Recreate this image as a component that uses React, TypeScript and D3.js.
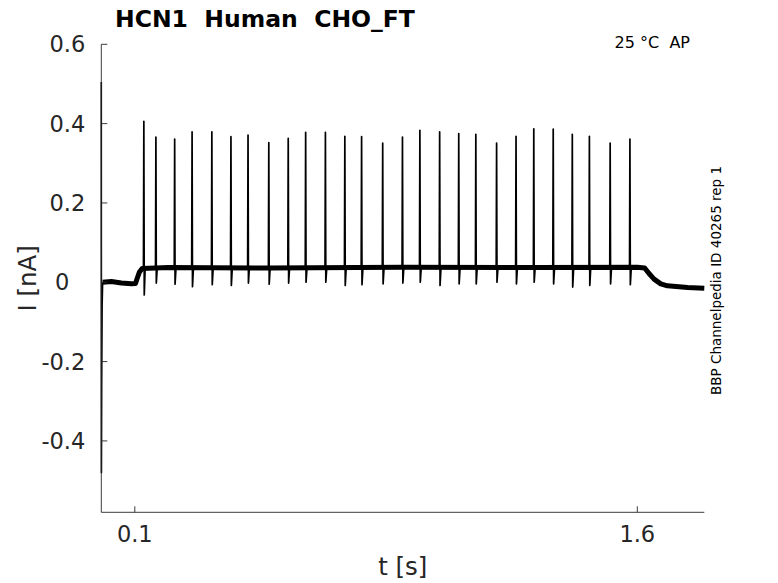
import { useEffect } from 'react';
import * as d3 from 'd3';

// spike times [s], peak current [nA] and the small undershoot after each spike
const spikeTimes = [
    0.127, 0.163, 0.219, 0.271, 0.330, 0.387, 0.438, 0.500, 0.558, 0.610,
    0.669, 0.727, 0.777, 0.840, 0.899, 0.951, 1.010, 1.067, 1.118, 1.180,
    1.238, 1.291, 1.349, 1.406, 1.457, 1.519, 1.578
];
const spikePeaks = [
    0.406, 0.366, 0.361, 0.379, 0.379, 0.367, 0.371, 0.352, 0.363, 0.378,
    0.378, 0.368, 0.367, 0.351, 0.366, 0.383, 0.379, 0.375, 0.373, 0.351,
    0.368, 0.387, 0.386, 0.373, 0.368, 0.351, 0.361
];
const spikeDips = [
    -0.032, -0.002, -0.005, -0.011, -0.006, -0.008, -0.002, -0.005, -0.002, 0.0,
    0.0, -0.008, -0.006, -0.004, -0.002, 0.0, -0.008, -0.004, -0.004, 0.0,
    -0.004, 0.0, -0.004, -0.012, -0.008, -0.004, -0.006
];

// holding current (center of the noise band)
const baselineTimes = [0.004, 0.03, 0.06, 0.09, 0.102, 0.108, 0.114, 0.122, 0.2, 0.5, 0.9, 1.3, 1.6, 1.622, 1.635, 1.65, 1.67, 1.69, 1.75, 1.8];
const baselineValues = [0.0, 0.002, -0.002, -0.004, -0.003, 0.012, 0.026, 0.035, 0.037, 0.036, 0.038, 0.037, 0.038, 0.036, 0.022, 0.008, -0.004, -0.009, -0.013, -0.015];

// capacitive transient at t = 0
const transientTimes = [0.0, 0.0004, 0.0012, 0.0025, 0.004];
const transientValues = [0.505, -0.48, -0.25, -0.06, 0.0];

const plateauLevel = 0.037;

const yTicks = [-0.4, -0.2, 0, 0.2, 0.4, 0.6];
const xTicks = [0.1, 1.6];

const W = 778;
const H = 583;
const margin = { top: 44.3, right: 73.7, bottom: 70.7, left: 101.3 };
const axisColor = '#262626';
const font = "'DejaVu Sans', sans-serif";

export default function App() {
    useEffect(() => {
        document.body.style.margin = '0';
    }, []);

    const x = d3.scaleLinear().domain([0, 1.8]).range([margin.left, W - margin.right]);
    const y = d3.scaleLinear().domain([-0.58, 0.6]).range([H - margin.bottom, margin.top]);

    const line = d3.line<[number, number]>()
        .x(d => x(d[0]))
        .y(d => y(d[1]));

    const baseline: [number, number][] = baselineTimes.map((t, i) => [t, baselineValues[i]]);
    const transient: [number, number][] = transientTimes.map((t, i) => [t, transientValues[i]]);

    const spikes = spikeTimes.map((t, i) => {
        const pts: [number, number][] = [
            [t - 0.0012, plateauLevel],
            [t, spikePeaks[i]],
            [t + 0.0012, spikeDips[i]],
            [t + 0.004, plateauLevel]
        ];
        return line(pts) || '';
    });

    const x0 = margin.left;
    const y0 = H - margin.bottom;

    return (
        <svg width={W} height={H} style={{ display: 'block', fontFamily: font }}>
            <rect width={W} height={H} fill="#fff" />

            {/* trace */}
            <g fill="none" stroke="#000" strokeLinejoin="round">
                <path d={line(baseline) || ''} strokeWidth={5} />
                <path d={line(transient) || ''} strokeWidth={1.6} />
                {spikes.map((d, i) => (
                    <path key={i} d={d} strokeWidth={1.7} />
                ))}
            </g>

            {/* axes */}
            <g stroke={axisColor} strokeWidth={0.9} fill="none">
                <line x1={x0} x2={x0} y1={margin.top} y2={y0} />
                <line x1={x0} x2={W - margin.right} y1={y0} y2={y0} />
                {yTicks.map(t => (
                    <line key={t} x1={x0} x2={x0 + 6} y1={y(t)} y2={y(t)} />
                ))}
                {xTicks.map(t => (
                    <line key={t} x1={x(t)} x2={x(t)} y1={y0} y2={y0 - 6} />
                ))}
            </g>

            <g fill={axisColor} fontSize={22.5}>
                {yTicks.map(t => (
                    <text key={t} x={t === 0 ? x0 - 32 : x0 - 16} y={y(t)} dy="0.36em" textAnchor="end">
                        {t === 0 ? '0' : d3.format('.1f')(t).replace('−', '-')}
                    </text>
                ))}
                {xTicks.map(t => (
                    <text key={t} x={x(t)} y={y0 + 30} textAnchor="middle">
                        {d3.format('.1f')(t)}
                    </text>
                ))}
            </g>

            <text x={(x0 + W - margin.right) / 2} y={574.5} textAnchor="middle" fontSize={24.5} fill={axisColor}>
                t [s]
            </text>
            <text transform={`translate(36,${(margin.top + y0) / 2}) rotate(-90)`} textAnchor="middle" fontSize={24.5} fill={axisColor}>
                I [nA]
            </text>

            <text x={115} y={27} fontSize={23.5} fontWeight="bold" fill="#000" style={{ whiteSpace: 'pre' }}>
                {'HCN1  Human  CHO_FT'}
            </text>
            <text x={690} y={48} fontSize={16} textAnchor="end" fill="#000" style={{ whiteSpace: 'pre' }}>
                {'25 °C  AP'}
            </text>
            <text transform="translate(721,395) rotate(-90)" fontSize={13.5} fill="#000">
                BBP Channelpedia ID 40265 rep 1
            </text>
        </svg>
    );
}
